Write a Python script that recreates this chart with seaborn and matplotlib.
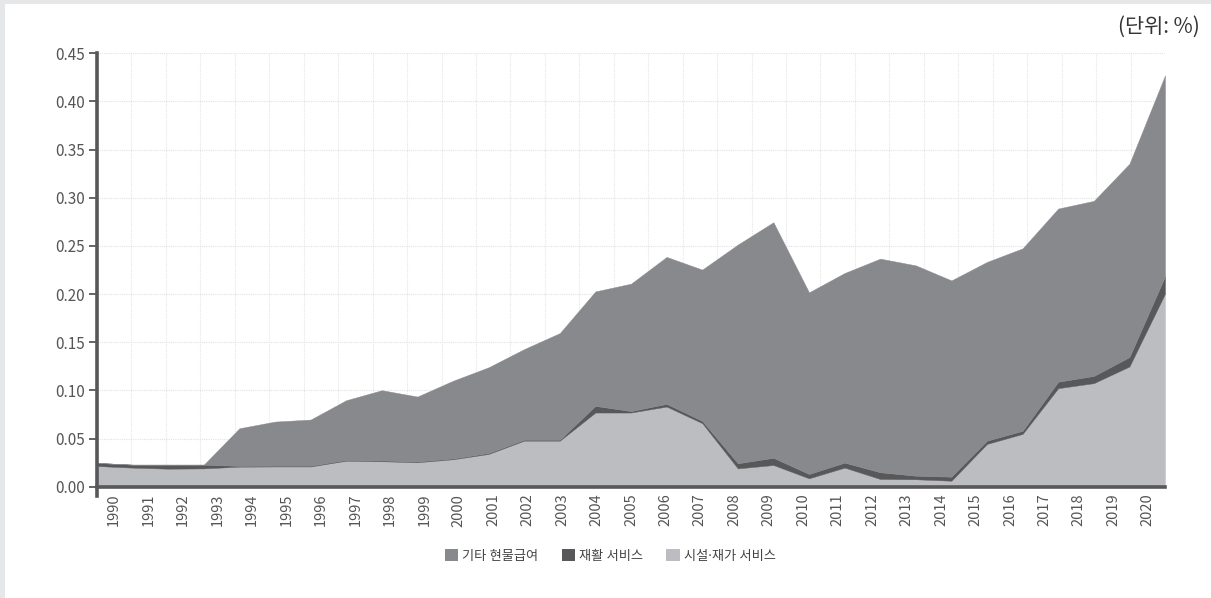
import numpy as np
import pandas as pd
import matplotlib
matplotlib.use("Agg")
import matplotlib.pyplot as plt
from matplotlib.patches import Patch, Rectangle
from matplotlib.font_manager import FontProperties
import seaborn as sns

# ---- data ----
years = [str(y) for y in range(1990, 2021)]
facility = [0.0215, 0.0198, 0.0187, 0.0190, 0.0208, 0.0210, 0.0210, 0.0270, 0.0264, 0.0254,
            0.0285, 0.0340, 0.0478, 0.0478, 0.0770, 0.0770, 0.0832, 0.0660, 0.0190, 0.0225,
            0.0087, 0.0198, 0.0080, 0.0077, 0.0062, 0.0444, 0.0548, 0.1023, 0.1075, 0.1248,
            0.2004]
rehab = [0.0032, 0.0031, 0.0042, 0.0039, 0.0008, 0.0008, 0.0008, 0.0008, 0.0008, 0.0008,
         0.0008, 0.0010, 0.0010, 0.0010, 0.0069, 0.0015, 0.0028, 0.0023, 0.0053, 0.0075,
         0.0045, 0.0052, 0.0070, 0.0037, 0.0042, 0.0034, 0.0032, 0.0067, 0.0075, 0.0098,
         0.0180]
other = [0.0000, 0.0000, 0.0000, 0.0000, 0.0391, 0.0458, 0.0479, 0.0620, 0.0730, 0.0674,
         0.0807, 0.0890, 0.0941, 0.1107, 0.1189, 0.1323, 0.1526, 0.1571, 0.2271, 0.2446,
         0.1886, 0.1969, 0.2218, 0.2184, 0.2038, 0.1856, 0.1895, 0.1798, 0.1818, 0.2007,
         0.2087]
series_names = ["기타 현물급여", "재활 서비스", "시설·재가 서비스"]
y_ticks = [0.00, 0.05, 0.10, 0.15, 0.20, 0.25, 0.30, 0.35, 0.40, 0.45]
unit_label = "(단위: %)"

col_other = "#88898d"
col_rehab = "#58585b"
col_facility = "#bcbdc0"

sns.set_theme(style="white")
plt.rcParams['font.family'] = ['Liberation Sans Narrow', 'Noto Sans CJK KR', 'DejaVu Sans']
kr = ['Noto Sans CJK KR', 'DejaVu Sans']
kr_legend = ['Noto Sans', 'Noto Sans CJK KR', 'DejaVu Sans']

df = pd.DataFrame({"year": years, "facility": facility, "rehab": rehab, "other": other})

W, H = 1211, 598
fig = plt.figure(figsize=(W / 100, H / 100), dpi=100, facecolor="#e6e7e9")
fig.patches.append(Rectangle((5 / W, 0), 1, 1 - 4 / H, transform=fig.transFigure,
                             facecolor="white", edgecolor="none", zorder=-10))

ax = fig.add_axes([97 / W, (H - 486.7) / H, 1068 / W, 433.4 / H])
ax.set_facecolor("white")

n = len(df)
x = np.arange(n)
polys = ax.stackplot(x, df["facility"], df["rehab"], df["other"],
                     colors=[col_facility, col_rehab, col_other], zorder=2)
for p in polys:
    p.set_edgecolor(p.get_facecolor())
    p.set_linewidth(0.3)

ax.set_xlim(0, n - 1)
ax.set_ylim(0, 0.45)

band = (n - 1) / n
ax.set_xticks([(i + 0.5) * band for i in range(n)])
ax.set_xticklabels(df["year"], rotation=90, fontsize=10.5, color="#555555")
ax.set_xticks([k * band for k in range(1, n)], minor=True)
ax.set_yticks(y_ticks)
ax.set_yticklabels([f"{v:.2f}" for v in y_ticks], fontsize=11, color="#555555")

ax.tick_params(axis="x", which="both", length=0, pad=5)
ax.tick_params(axis="y", which="major", length=6, width=1.3, color="#58585b",
               direction="out", pad=3, left=True)

ax.grid(False)
ax.grid(which="minor", axis="x", color="#e6e6e6", linestyle=(0, (1, 1)), linewidth=0.8, zorder=0)
ax.grid(which="major", axis="y", color="#e2e2e2", linestyle=(0, (1, 1)), linewidth=0.8, zorder=0)
ax.set_axisbelow(True)

sns.despine(ax=ax, top=True, right=True)
for side in ["left", "bottom"]:
    ax.spines[side].set_color("#58585b")
    ax.spines[side].set_linewidth(2.6)
    ax.spines[side].set_zorder(5)
ax.spines["left"].set_bounds(-0.0095, 0.45)
ax.spines["left"].set_clip_on(False)

ax.set_xlabel("")
ax.set_ylabel("")

fig.text(1200 / W, 1 - 27 / H, unit_label, ha="right", va="center", fontsize=15,
         family=kr, color="#333333")

handles = [Patch(facecolor=col_other, edgecolor="none"),
           Patch(facecolor=col_rehab, edgecolor="none"),
           Patch(facecolor=col_facility, edgecolor="none")]
leg = fig.legend(handles, series_names, loc="center", bbox_to_anchor=(610 / W, 1 - 556 / H),
                 ncol=3, frameon=False, handlelength=1.0, handleheight=1.0,
                 handletextpad=0.3, columnspacing=1.8,
                 prop=FontProperties(family=kr_legend, size=9.5))
for t in leg.get_texts():
    t.set_color("#444444")

fig.savefig("out.png", dpi=100, facecolor=fig.get_facecolor())
